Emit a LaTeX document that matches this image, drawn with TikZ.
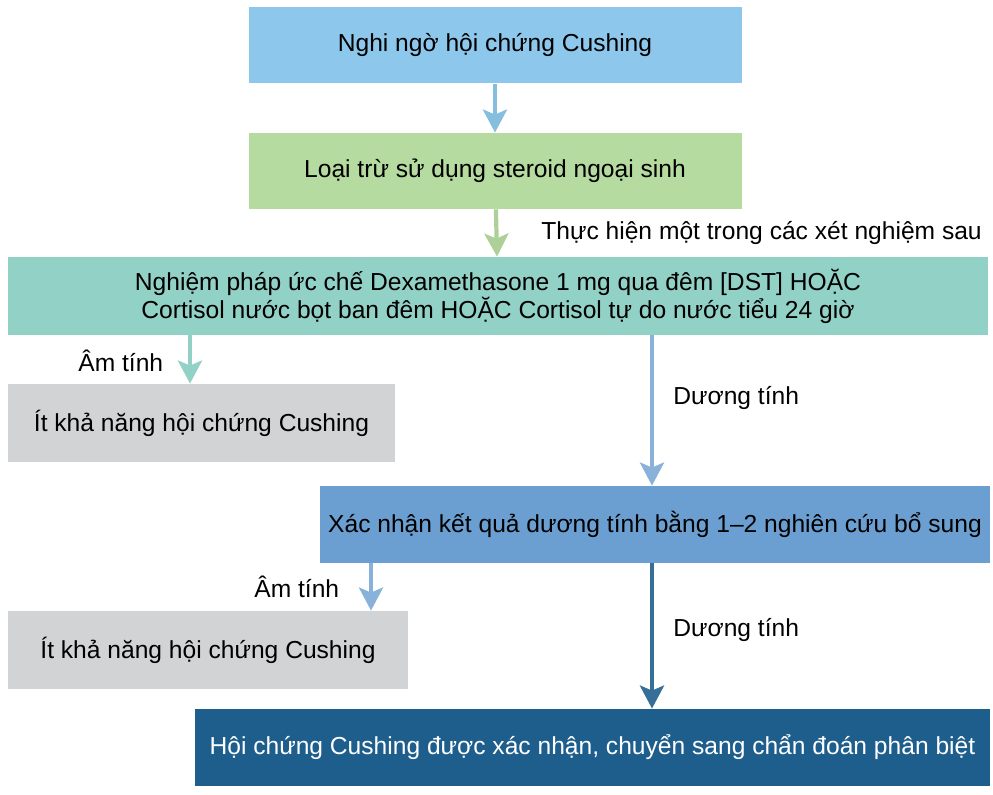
\documentclass[tikz,border=0pt]{standalone}
\usepackage{fontspec}
\setmainfont{Liberation Sans}
\usepackage{xcolor}
\usepackage{tikz}
\usetikzlibrary{arrows.meta, positioning}
\definecolor{suspectblue}{RGB}{141, 200, 236}
\definecolor{steroidgreen}{RGB}{181, 219, 160}
\definecolor{testteal}{RGB}{146, 209, 198}
\definecolor{unlikelygrey}{RGB}{210, 211, 213}
\definecolor{confirmblue}{RGB}{107, 159, 209}
\definecolor{finalblue}{RGB}{30, 94, 140}
\tikzset{
  box/.style={rectangle, inner sep=0pt, align=center, font=\fontsize{12.3}{14}\selectfont},
  flow/.style={line width=2.1pt, -{Stealth[length=11.5pt, width=12pt, inset=2.5pt]}},
  lbl/.style={anchor=base west, inner sep=0pt, font=\fontsize{12.3}{14}\selectfont}
}

\begin{document}
\begin{tikzpicture}[x=0.5pt, y=-0.5pt]
  \useasboundingbox (0,0) rectangle (993,795);

  % Boxes
  \node[box, fill=suspectblue, minimum width=246.5pt, minimum height=38pt] (suspect) at (495,45.5) {Nghi ngờ hội chứng Cushing};
  \node[box, fill=steroidgreen, minimum width=246.5pt, minimum height=38pt] (steroid) at (495,171) {Loại trừ sử dụng steroid ngoại sinh};
  \node[box, fill=testteal, minimum width=490pt, minimum height=39pt] (tests) at (498,296) {Nghiệm pháp ức chế Dexamethasone 1 mg qua đêm [DST] HOẶC\\Cortisol nước bọt ban đêm HOẶC Cortisol tự do nước tiểu 24 giờ};
  \node[box, fill=unlikelygrey, minimum width=193.5pt, minimum height=39pt] (unlikelyA) at (201.5,423) {Ít khả năng hội chứng Cushing};
  \node[box, fill=confirmblue, minimum width=335pt, minimum height=38.5pt] (confirm) at (655,524.5) {Xác nhận kết quả dương tính bằng 1–2 nghiên cứu bổ sung};
  \node[box, fill=unlikelygrey, minimum width=200pt, minimum height=39pt] (unlikelyB) at (208,650) {Ít khả năng hội chứng Cushing};
  \node[box, fill=finalblue, text=white, minimum width=397.5pt, minimum height=38.5pt] (final) at (592.5,747.5) {Hội chứng Cushing được xác nhận, chuyển sang chẩn đoán phân biệt};

  % Arrows
  \draw[flow, color=suspectblue!95!black] (suspect) -- (steroid);
  \draw[flow, color=steroidgreen!95!black] (steroid) -- (tests);
  \draw[flow, color=testteal] (tests.south -| 190,0) -- (unlikelyA.north -| 190,0);
  \draw[flow, color=confirmblue!80!white] (tests.south -| 652,0) -- (confirm.north -| 652,0);
  \draw[flow, color=confirmblue!80!white] (confirm.south -| 371,0) -- (unlikelyB.north -| 371,0);
  \draw[flow, color=finalblue!90!white] (confirm.south -| 652,0) -- (final.north -| 652,0);

  % Labels
  \node[lbl] (perform) at (541,240) {Thực hiện một trong các xét nghiệm sau};
  \node[lbl] (negA) at (78,372) {Âm tính};
  \node[lbl] (posA) at (673,405) {Dương tính};
  \node[lbl] (negB) at (254,598) {Âm tính};
  \node[lbl] (posB) at (673,637) {Dương tính};
\end{tikzpicture}
\end{document}
